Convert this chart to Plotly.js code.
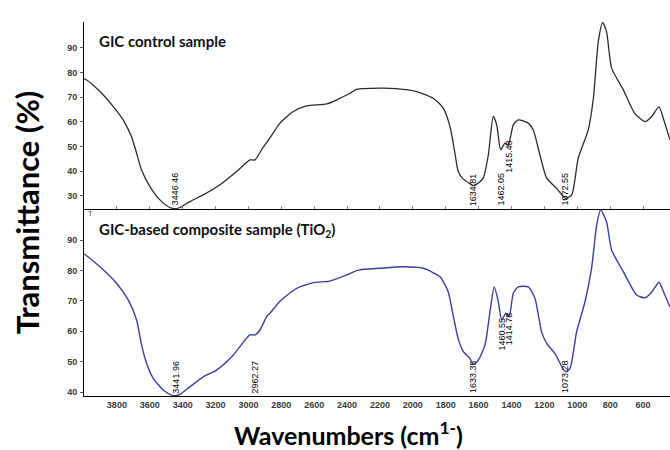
<!DOCTYPE html>
<html>
<head>
<meta charset="utf-8">
<script src="https://cdn.plot.ly/plotly-3.0.1.min.js"></script>
<style>html,body{margin:0;padding:0;background:#fff;}#chart{width:670px;height:450px;}</style>
</head>
<body>
<div id="chart"></div>
<script>
// Wavenumbers (cm-1) and transmittance (%)
const controlWavenumber = [4000, 3984, 3903, 3822, 3762, 3711, 3680, 3650, 3599, 3538, 3478, 3447, 3417, 3356, 3275, 3173, 3072, 2991, 2960, 2920, 2864, 2808, 2727, 2646, 2524, 2464, 2383, 2342, 2200, 2099, 1977, 1876, 1815, 1774, 1744, 1724, 1693, 1653, 1634, 1612, 1572, 1541, 1511, 1490, 1466, 1440, 1420, 1389, 1359, 1298, 1268, 1227, 1186, 1126, 1072, 1034, 994, 933, 902, 872, 846, 822, 791, 720, 651, 588, 547, 503, 477, 436];
const controlT = [77.5, 77.0, 72.3, 66.2, 60.8, 54.0, 47.3, 40.5, 33.8, 28.4, 25.3, 24.8, 25.3, 27.7, 30.4, 34.5, 39.9, 44.6, 44.6, 48.7, 54.0, 59.5, 64.2, 66.5, 67.3, 68.9, 71.6, 73.2, 73.7, 73.5, 72.3, 69.6, 65.6, 58.1, 47.3, 39.9, 36.8, 35.0, 34.2, 34.8, 37.2, 46.6, 62.2, 58.8, 48.7, 51.4, 50.5, 58.8, 60.8, 59.5, 56.8, 46.6, 37.2, 33.1, 29.0, 30.4, 45.3, 56.8, 69.6, 92.6, 100.3, 96.6, 81.8, 73.0, 63.5, 60.1, 62.2, 66.2, 61.5, 52.7];

const compWavenumber = [4000, 3903, 3802, 3731, 3680, 3650, 3619, 3579, 3518, 3467, 3442, 3417, 3356, 3275, 3194, 3092, 2991, 2960, 2930, 2889, 2869, 2808, 2707, 2606, 2504, 2403, 2332, 2200, 2058, 1937, 1835, 1785, 1755, 1724, 1693, 1653, 1633, 1602, 1561, 1531, 1505, 1480, 1460, 1434, 1414, 1389, 1359, 1298, 1257, 1217, 1186, 1136, 1073, 1044, 1004, 953, 913, 882, 858, 822, 791, 720, 639, 588, 547, 503, 472, 436];
const compT = [85.5, 81.2, 75.8, 70.3, 63.7, 55.5, 49.4, 44.5, 40.7, 39.0, 38.8, 39.2, 41.7, 45.0, 47.2, 52.2, 58.8, 58.8, 60.4, 64.8, 65.9, 69.9, 74.1, 76.0, 76.5, 78.5, 80.1, 80.7, 81.2, 80.7, 77.9, 73.0, 65.3, 57.5, 53.3, 51.1, 49.1, 50.5, 55.5, 66.4, 74.6, 69.7, 63.7, 65.9, 64.8, 72.5, 74.6, 74.6, 70.8, 59.8, 56.0, 52.7, 46.7, 47.8, 59.8, 69.7, 80.7, 94.9, 99.9, 96.0, 86.7, 79.6, 71.9, 71.0, 72.8, 76.1, 72.5, 68.0];

const controlPeaks = ["3446.46", "1634.81", "1462.05", "1415.48", "1072.55"];
const compPeaks = ["3441.96", "2962.27", "1633.35", "1460.55", "1414.78", "1073.28"];
const xTicks = [3800, 3600, 3400, 3200, 3000, 2800, 2600, 2400, 2200, 2000, 1800, 1600, 1400, 1200, 1000, 800, 600];
const yTicksTop = [30, 40, 50, 60, 70, 80, 90];
const yTicksBottom = [40, 50, 60, 70, 80, 90];

const traces = [
  {x: controlWavenumber, y: controlT, xaxis: 'x', yaxis: 'y', type: 'scatter', mode: 'lines',
   line: {color: '#2b2b2b', width: 1.3, shape: 'spline', smoothing: 0.6}, hoverinfo: 'skip'},
  {x: compWavenumber, y: compT, xaxis: 'x2', yaxis: 'y2', type: 'scatter', mode: 'lines',
   line: {color: '#3d3d9e', width: 1.4, shape: 'spline', smoothing: 0.6}, hoverinfo: 'skip'}
];

const tickFont = {family: 'Liberation Sans, Arial, sans-serif', size: 9, color: '#3a3a3a', weight: 'bold'};
const xRange = [4000, 436];
const common = {showline: true, linecolor: '#000', linewidth: 1, showgrid: false, zeroline: false, mirror: false};

function peakAnn(text, yref, ybase) {
  return {text: text, xref: 'x', yref: yref, x: parseFloat(text), y: ybase, textangle: -90,
    xanchor: 'center', yanchor: 'bottom', showarrow: false,
    font: {family: 'Liberation Sans, Arial, sans-serif', size: 9, color: '#000'}};
}
const topBase = [25.2, 25.2, 25.2, 38.8, 25.2];
const botBase = [38.9, 38.9, 38.9, 53.0, 54.6, 38.9];

const annotations = [];
controlPeaks.forEach((p, i) => annotations.push(peakAnn(p, 'y', topBase[i])));
compPeaks.forEach((p, i) => annotations.push(peakAnn(p, 'y2', botBase[i])));
annotations.push(
  {text: '<b>GIC control sample</b>', xref: 'paper', yref: 'paper', x: 0.022, y: 0.948, xanchor: 'left', yanchor: 'middle', showarrow: false,
   font: {family: 'Lato, sans-serif', size: 15, color: '#111'}},
  {text: '<b>GIC-based composite sample (TiO<sub>2</sub>)</b>', xref: 'paper', yref: 'paper', x: 0.022, y: 0.443, xanchor: 'left', yanchor: 'middle', showarrow: false,
   font: {family: 'Lato, sans-serif', size: 15, color: '#111'}},
  {text: 'Transmittance (%)', xref: 'paper', yref: 'paper', x: -0.098, y: 0.49, xanchor: 'center', yanchor: 'middle', textangle: -90, showarrow: false,
   font: {family: 'Lato, sans-serif', size: 31, color: '#000', weight: 'bold'}},
  {text: 'Wavenumbers (cm<sup>1-</sup>)', xref: 'paper', yref: 'paper', x: 0.452, y: -0.1, xanchor: 'center', yanchor: 'middle', showarrow: false,
   font: {family: 'Lato, sans-serif', size: 25, color: '#000', weight: 'bold'}},
  {text: 'T', xref: 'paper', yref: 'paper', x: 0.003, y: 0.488, xanchor: 'left', yanchor: 'middle', showarrow: false,
   font: {family: 'Liberation Sans, Arial, sans-serif', size: 7, color: '#3d3d9e'}}
);

const layout = {
  width: 670, height: 450,
  margin: {l: 84, r: 0, t: 22, b: 54, pad: 0},
  paper_bgcolor: '#fff', plot_bgcolor: '#fff',
  showlegend: false,
  xaxis: Object.assign({}, common, {range: xRange, anchor: 'y', domain: [0, 1], tickvals: xTicks, showticklabels: false, ticks: 'inside', ticklen: 3, tickcolor: '#888'}),
  yaxis: Object.assign({}, common, {range: [24.7, 100.5], domain: [0.5, 1], anchor: 'x', tickvals: yTicksTop, ticks: 'outside', ticklen: 3, tickcolor: '#555', tickfont: tickFont, ticklabelstandoff: 1}),
  xaxis2: Object.assign({}, common, {range: xRange, anchor: 'y2', domain: [0, 1], tickvals: xTicks, ticks: '', tickfont: tickFont}),
  yaxis2: Object.assign({}, common, {range: [38.7, 100.2], domain: [0, 0.5], anchor: 'x2', tickvals: yTicksBottom, ticks: 'outside', ticklen: 3, tickcolor: '#555', tickfont: tickFont, ticklabelstandoff: 1}),
  annotations: annotations
};

Plotly.newPlot('chart', traces, layout, {staticPlot: true, displayModeBar: false});
</script>
</body>
</html>
